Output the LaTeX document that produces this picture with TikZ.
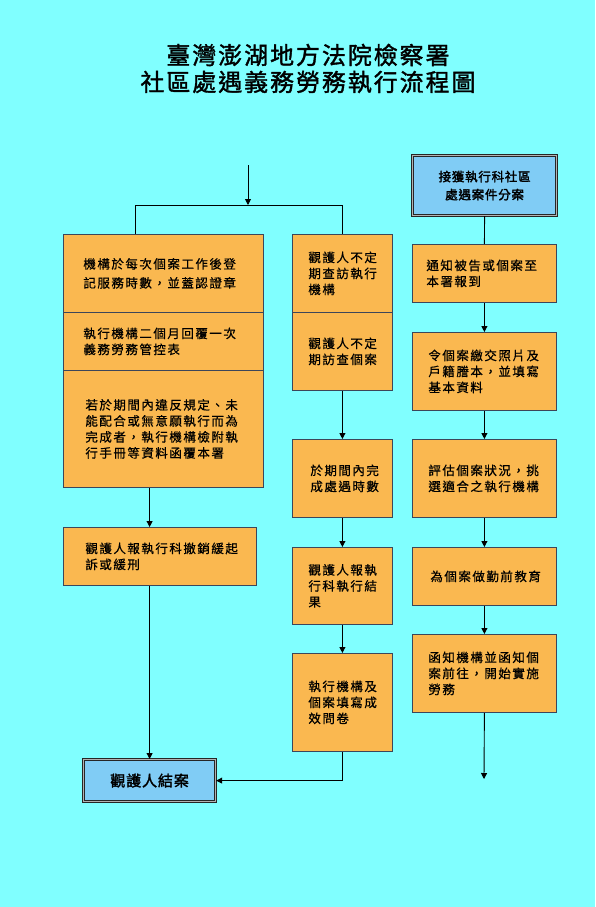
\documentclass[tikz,border=0pt]{standalone}
\usepackage{fontspec}
\usetikzlibrary{arrows.meta,calc}
\newfontfamily\cjk[LetterSpace=12,FakeBold=0.6]{Noto Sans CJK TC}
\newfontfamily\cjkb[LetterSpace=6,FakeBold=2]{Noto Sans CJK TC}
\newfontfamily\cjkt[LetterSpace=8,FakeBold=1.5]{Noto Sans CJK TC}
\definecolor{bgcyan}{RGB}{128,255,255}
\definecolor{boxorange}{RGB}{250,184,80}
\definecolor{boxblue}{RGB}{128,204,245}
\definecolor{edge}{RGB}{60,70,90}
\tikzset{
  obox/.style={draw=edge, line width=0.8pt, fill=boxorange, anchor=north west,
    align=left, inner ysep=0pt, font=\cjk\fontsize{12.5}{16}\selectfont},
  bbox/.style={draw=black!85, line width=1.2pt, double=gray!60, double distance=1.2pt,
    fill=boxblue, anchor=north west, align=center, inner sep=0pt},
  conn/.style={draw=black, line width=0.9pt},
  arr/.style={conn, -{Triangle[length=6pt,width=6pt]}}
}
\begin{document}
\begin{tikzpicture}[x=1pt,y=-1pt]
\fill[bgcyan] (0,0) rectangle (595,907);
\useasboundingbox (0,0) rectangle (595,907);
% title
\node[font=\cjkt\fontsize{24}{27}\selectfont] (title1) at (308,55) {臺灣澎湖地方法院檢察署};
\node[font=\cjkt\fontsize{24}{27}\selectfont] (title2) at (308,82) {社區處遇義務勞務執行流程圖};
% left column
\node[obox, minimum width=200pt, minimum height=78pt, text width=170pt, inner xsep=15pt,
  font=\cjk\fontsize{12.5}{19}\selectfont] (L1) at (63,234)
  {\hspace*{5pt}機構於每次個案工作後登\\\hspace*{5pt}記服務時數，並蓋認證章};
\node[obox, minimum width=200pt, minimum height=58pt, text width=170pt, inner xsep=15pt] (L2) at (63,312)
  {\hspace*{5pt}執行機構二個月回覆一次\\\hspace*{5pt}義務勞務管控表};
\node[obox, minimum width=200pt, minimum height=117pt, text width=170pt, inner xsep=15pt] (L3) at (63,370)
  {\hspace*{7pt}若於期間內違反規定、未\\\hspace*{7pt}能配合或無意願執行而為\\\hspace*{7pt}完成者，執行機構檢附執\\\hspace*{7pt}行手冊等資料函覆本署\\[12pt]};
\node[obox, minimum width=193pt, minimum height=58pt, text width=163pt, inner xsep=15pt] (L4) at (63,527)
  {\hspace*{7pt}觀護人報執行科撤銷緩起\\\hspace*{7pt}訴或緩刑};
% middle column
\node[obox, minimum width=100pt, minimum height=78pt, text width=80pt, inner xsep=10pt] (M1) at (292,234)
  {\hspace*{6pt}觀護人不定\\\hspace*{6pt}期查訪執行\\\hspace*{6pt}機構};
\node[obox, minimum width=100pt, minimum height=78pt, text width=80pt, inner xsep=10pt] (M2) at (292,312)
  {\hspace*{6pt}觀護人不定\\\hspace*{6pt}期訪查個案};
\node[obox, minimum width=100pt, minimum height=78pt, text width=80pt, inner xsep=10pt] (M3) at (292,439)
  {\hspace*{8pt}於期間內完\\\hspace*{8pt}成處遇時數};
\node[obox, minimum width=100pt, minimum height=77pt, text width=80pt, inner xsep=10pt] (M4) at (292,547)
  {\hspace*{6pt}觀護人報執\\\hspace*{6pt}行科執行結\\\hspace*{6pt}果};
\node[obox, minimum width=100pt, minimum height=98pt, text width=80pt, inner xsep=10pt] (M5) at (292,653)
  {\hspace*{6pt}執行機構及\\\hspace*{6pt}個案填寫成\\\hspace*{6pt}效問卷};
% right column
\node[bbox, minimum width=144pt, minimum height=60pt, font=\cjkb\fontsize{12.5}{18}\selectfont] (T) at (412,155)
  {接獲執行科社區\\處遇案件分案};
\node[obox, minimum width=144pt, minimum height=58pt, text width=124pt, inner xsep=10pt] (R1) at (412,244)
  {\hspace*{4pt}通知被告或個案至\\\hspace*{4pt}本署報到};
\node[obox, minimum width=144pt, minimum height=78pt, text width=124pt, inner xsep=10pt] (R2) at (412,332)
  {\hspace*{6pt}令個案繳交照片及\\\hspace*{6pt}戶籍謄本，並填寫\\\hspace*{6pt}基本資料};
\node[obox, minimum width=144pt, minimum height=78pt, text width=124pt, inner xsep=10pt] (R3) at (412,439)
  {\hspace*{6pt}評估個案狀況，挑\\\hspace*{6pt}選適合之執行機構};
\node[obox, minimum width=144pt, minimum height=58pt, text width=124pt, inner xsep=10pt] (R4) at (412,547)
  {\hspace*{8pt}為個案做勤前教育};
\node[obox, minimum width=144pt, minimum height=78pt, text width=124pt, inner xsep=10pt] (R5) at (412,634)
  {\hspace*{6pt}函知機構並函知個\\\hspace*{6pt}案前往，開始實施\\\hspace*{6pt}勞務\\[6pt]};
% final
\node[bbox, minimum width=132pt, minimum height=42pt, font=\cjkb\fontsize{15}{18}\selectfont] (F) at (83,759)
  {觀護人結案};
% coordinates
\coordinate (top) at (248,165);
\coordinate (split) at (248,205);
\coordinate (lx) at (135,205);
\coordinate (rend) at (484,779);
% connectors
\draw[arr] (top) -- (split);
\draw[conn] (lx |- L1.north) -- (lx) -- (lx -| M1.north) -- (M1.north);
\draw[arr] (F.north |- L3.south) -- (F.north |- L4.north);
\draw[arr] (F.north |- L4.south) -- (F.north);
\draw[arr] (M2.south) -- (M3.north);
\draw[arr] (M3.south) -- (M4.north);
\draw[arr] (M4.south) -- (M5.north);
\draw[arr] (M5.south) |- (F.east);
\draw[conn] (T.south) -- (R1.north);
\draw[arr] (R1.south) -- (R2.north);
\draw[arr] (R2.south) -- (R3.north);
\draw[arr] (R3.south) -- (R4.north);
\draw[arr] (R4.south) -- (R5.north);
\draw[arr] (R5.south) -- (rend);
\end{tikzpicture}
\end{document}
